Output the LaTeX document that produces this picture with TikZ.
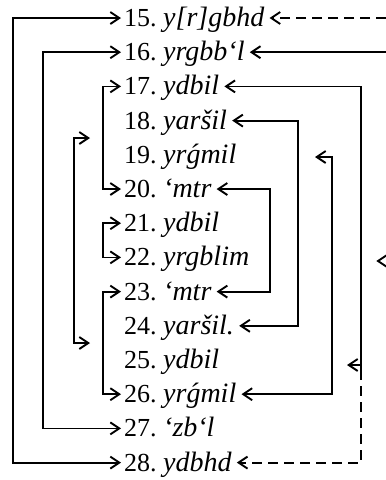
\documentclass[tikz,border=0pt]{standalone}
\usepackage{fontspec}
\setmainfont{Liberation Serif}
\usetikzlibrary{arrows.meta,calc}
\begin{document}
\begin{tikzpicture}[x=1pt,y=-1pt,
  bb/.tip={Straight Barb[length=9pt,width=12pt,line width=1.9pt]},
  conn/.style={line width=1.8pt},
  dsh/.style={conn,dash pattern=on 10pt off 6pt},
  num/.style={anchor=west,inner xsep=3pt,inner ysep=0pt,text height=17pt,text depth=0pt,font=\fontsize{26}{26}\selectfont},
  word/.style={anchor=west,inner xsep=5pt,inner ysep=0pt,text height=17pt,text depth=0pt,font=\fontsize{28}{28}\selectfont\itshape}]
\useasboundingbox (0,0) rectangle (386,480);
% numbers
\node[num] (n15) at (121,18) {15.};
\node[num] (n16) at (121,52.2) {16.};
\node[num] (n17) at (121,86.4) {17.};
\node[num] (n18) at (121,120.6) {18.};
\node[num] (n19) at (121,154.8) {19.};
\node[num] (n20) at (121,189) {20.};
\node[num] (n21) at (121,223.2) {21.};
\node[num] (n22) at (121,257.4) {22.};
\node[num] (n23) at (121,291.6) {23.};
\node[num] (n24) at (121,325.8) {24.};
\node[num] (n25) at (121,360) {25.};
\node[num] (n26) at (121,394.2) {26.};
\node[num] (n27) at (121,428.4) {27.};
\node[num] (n28) at (121,462.6) {28.};
% words
\node[word] (w15) at (158,18) {y[r]gbhd};
\node[word] (w16) at (158,52.2) {yrgbb‘l};
\node[word] (w17) at (158,86.4) {ydbil};
\node[word] (w18) at (158,120.6) {yaršil};
\node[word] (w19) at (158,154.8) {yrǵmil};
\node[word] (w20) at (158,189) {‘mtr};
\node[word] (w21) at (158,223.2) {ydbil};
\node[word] (w22) at (158,257.4) {yrgblim};
\node[word] (w23) at (158,291.6) {‘mtr};
\node[word] (w24) at (158,325.8) {yaršil.};
\node[word] (w25) at (158,360) {ydbil};
\node[word] (w26) at (158,394.2) {yrǵmil};
\node[word] (w27) at (158,428.4) {‘zb‘l};
\node[word] (w28) at (158,462.6) {ydbhd};
% columns
\coordinate (cA) at (13,0);
\coordinate (cB) at (43,0);
\coordinate (cC) at (103,0);
\coordinate (cD) at (74,0);
\coordinate (cR20) at (270,0);
\coordinate (cR18) at (298,0);
\coordinate (cR26) at (332,0);
\coordinate (cR17) at (361,0);
% left connectors
\draw[conn,{bb}-{bb}] (n15.west) -- (n15.west -| cA) -- (n28.west -| cA) -- (n28.west);
\draw[conn,{bb}-{bb}] (n16.west) -- (n16.west -| cB) -- (n27.west -| cB) -- (n27.west);
\draw[conn,{bb}-{bb}] (n17.west) -- (n17.west -| cC) -- (n20.west -| cC) -- (n20.west);
\draw[conn,{bb}-{bb}] (n21.west) -- (n21.west -| cC) -- (n22.west -| cC) -- (n22.west);
\draw[conn,{bb}-{bb}] (n23.west) -- (n23.west -| cC) -- (n26.west -| cC) -- (n26.west);
\coordinate (d1) at (90,138);
\coordinate (d2) at (90,343);
\draw[conn,{bb}-{bb}] (d1) -- (d1 -| cD) -- (d2 -| cD) -- (d2);
% right connectors
\coordinate (e15) at (386,18);
\coordinate (e16) at (386,52.2);
\draw[dsh,-{bb}] (e15) -- (w15.east);
\draw[conn,-{bb}] (e16) -- (w16.east);
\draw[conn,{bb}-{bb}] (w20.east) -- (w20.east -| cR20) -- (w23.east -| cR20) -- (w23.east);
\draw[conn,{bb}-{bb}] (w18.east) -- (w18.east -| cR18) -- (w24.east -| cR18) -- (w24.east);
\coordinate (t19) at (315,157);
\draw[conn,{bb}-{bb}] (w26.east) -- (w26.east -| cR26) -- (cR26 |- t19) -- (t19);
\coordinate (s25) at (361,370);
\draw[conn,{bb}-] (w17.east) -- (w17.east -| cR17) -- (s25);
\draw[dsh,-{bb}] (s25) -- (w28.east -| cR17) -- (w28.east);
\coordinate (s25a) at (361,365);
\coordinate (s25b) at (347,365);
\draw[conn,-{bb}] (s25a) -- (s25b);
% free arrowhead at the right edge
\coordinate (fa) at (387,255);
\coordinate (fb) at (378,261);
\coordinate (fc) at (387,267);
\draw[line width=1.9pt,line join=miter] (fa) -- (fb) -- (fc);
\end{tikzpicture}
\end{document}
